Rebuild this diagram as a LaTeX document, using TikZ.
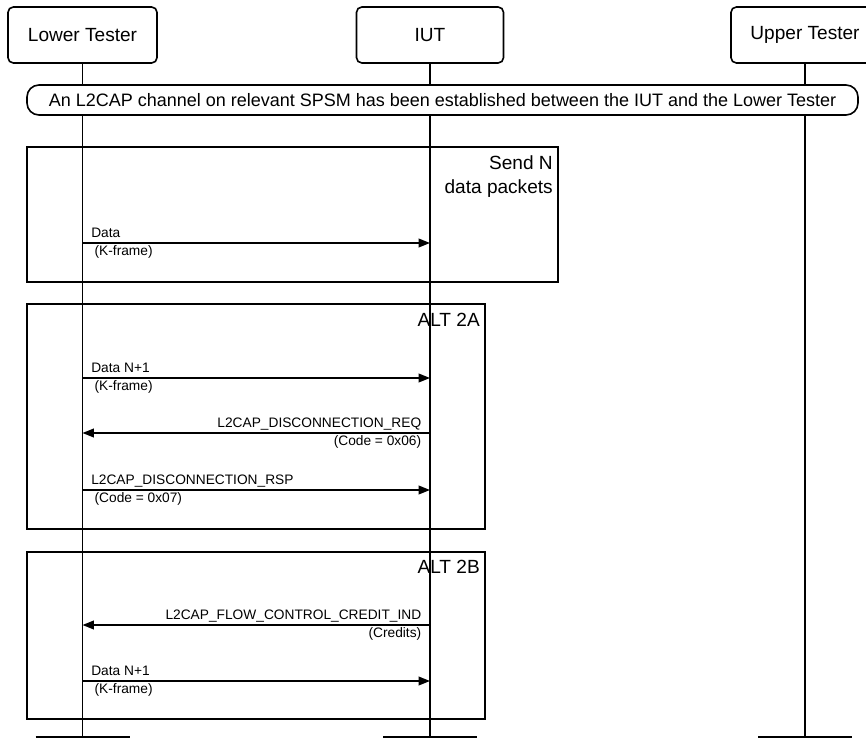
\documentclass[tikz,border=0pt]{standalone}
\usepackage{fontspec}
\setmainfont{Liberation Sans}
\usetikzlibrary{arrows.meta}

\begin{document}
\begin{tikzpicture}[
  x=0.75pt, y=-0.75pt,
  >={Triangle[length=8.5pt,width=6.5pt]},
  actor/.style={draw, fill=white, rounded corners=4pt, line width=1.2pt, minimum height=42pt, font=\fontsize{14.3}{17}\selectfont},
  life/.style={line width=1.4pt},
  frame/.style={draw, line width=1.2pt},
  framelbl/.style={anchor=north east, inner sep=0pt, align=right, font=\fontsize{14.3}{18}\selectfont},
  msg/.style={->, line width=1.2pt},
  lbl/.style={inner sep=0pt, font=\fontsize{10.3}{12}\selectfont},
  ltop/.style={lbl, at start, anchor=base west, xshift=6pt, yshift=4.1pt},
  lbot/.style={lbl, at start, anchor=base west, xshift=8.5pt, yshift=-9.2pt},
  rtop/.style={lbl, at start, anchor=base east, xshift=-6pt, yshift=4.1pt},
  rbot/.style={lbl, at start, anchor=base east, xshift=-6pt, yshift=-9.2pt}
]
\useasboundingbox (0,0) rectangle (866,738);
\clip (0,0) rectangle (866,738);

% actors
\node[actor, minimum width=111.75pt] (lt) at (82.5,35) {Lower Tester};
\node[actor, minimum width=110.25pt] (iut) at (430,35) {IUT};
\node[actor, minimum width=111pt] (ut) at (805,35) {Upper Tester};

% lifelines
\coordinate (ltend) at (82.5,737);
\coordinate (iutend) at (430,737);
\coordinate (utend) at (805,737);
\draw[life] (lt) -- (ltend);
\draw[life] (iut) -- (iutend);
\draw[life] (ut) -- (utend);
\draw[life] ([xshift=-35.25pt]ltend) -- ([xshift=35.25pt]ltend);
\draw[life] ([xshift=-35.25pt]iutend) -- ([xshift=35.25pt]iutend);
\draw[life] ([xshift=-35.25pt]utend) -- ([xshift=35.25pt]utend);

% precondition
\node[draw, fill=white, rounded corners=9pt, line width=1.2pt, minimum width=623.25pt, minimum height=22.5pt, font=\fontsize{13.5}{15}\selectfont] (setup) at (442.5,100) {An L2CAP channel on relevant SPSM has been established between the IUT and the Lower Tester};

% send N data packets
\draw[frame] (27,147) rectangle (558,282);
\node[framelbl] (sendn) at (553,155) {Send N\\data packets};
\coordinate (d1a) at (82.5,243);
\coordinate (d1b) at (430,243);
\draw[msg] (d1a) -- (d1b) node[ltop] {Data} node[lbot] {(K-frame)};

% alt 2A
\draw[frame] (27,304) rectangle (485,529);
\node[framelbl] (alta) at (480,313) {ALT 2A};
\coordinate (d2a) at (82.5,378);
\coordinate (d2b) at (430,378);
\draw[msg] (d2a) -- (d2b) node[ltop] {Data N+1} node[lbot] {(K-frame)};
\coordinate (reqa) at (430,433);
\coordinate (reqb) at (82.5,433);
\draw[msg] (reqa) -- (reqb) node[rtop] {L2CAP\_DISCONNECTION\_REQ} node[rbot] {(Code = 0x06)};
\coordinate (rspa) at (82.5,490);
\coordinate (rspb) at (430,490);
\draw[msg] (rspa) -- (rspb) node[ltop] {L2CAP\_DISCONNECTION\_RSP} node[lbot] {(Code = 0x07)};

% alt 2B
\draw[frame] (27,552) rectangle (485,719);
\node[framelbl] (altb) at (480,560) {ALT 2B};
\coordinate (cra) at (430,625);
\coordinate (crb) at (82.5,625);
\draw[msg] (cra) -- (crb) node[rtop] {L2CAP\_FLOW\_CONTROL\_CREDIT\_IND} node[rbot] {(Credits)};
\coordinate (d3a) at (82.5,681);
\coordinate (d3b) at (430,681);
\draw[msg] (d3a) -- (d3b) node[ltop] {Data N+1} node[lbot] {(K-frame)};
\end{tikzpicture}
\end{document}
